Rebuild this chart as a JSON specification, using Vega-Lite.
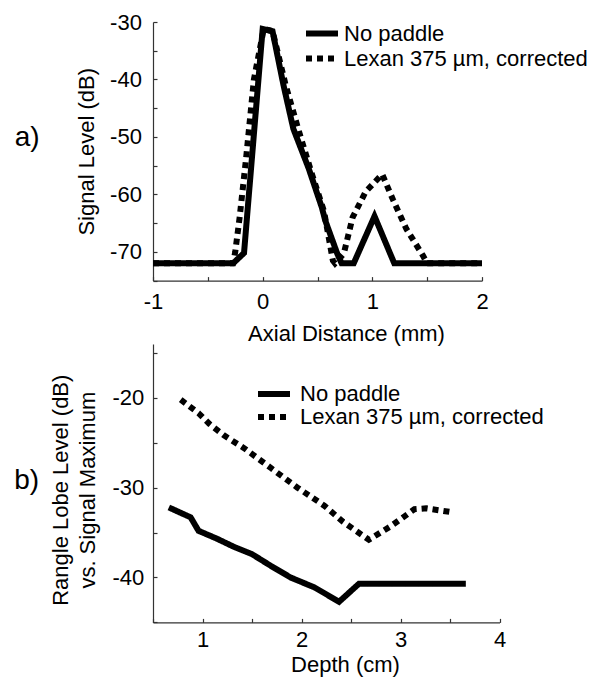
{
  "$schema": "https://vega.github.io/schema/vega-lite/v6.json",
  "background": "white",
  "padding": {"left": 14, "top": 11, "right": 5, "bottom": 5},
  "config": {
    "view": {"stroke": null},
    "font": "Liberation Sans",
    "axis": {
      "grid": false, "domainColor": "#333333", "domainWidth": 1.2,
      "tickColor": "#333333", "tickWidth": 1.2, "tickSize": -4,
      "labelFontSize": 22, "labelColor": "black", "labelFont": "Liberation Sans",
      "titleFontSize": 22, "titleFontWeight": "normal", "titleColor": "black", "titleFont": "Liberation Sans",
      "labelOverlap": false, "labelFlush": false
    },
    "legend": {
      "title": null, "orient": "none", "labelFontSize": 22, "labelFont": "Liberation Sans", "labelColor": "black",
      "labelLimit": 400,
      "symbolType": "M-2,0L2,0", "symbolSize": 256, "symbolStrokeWidth": 6, "symbolStrokeColor": "black",
      "labelOffset": 11, "padding": 0
    }
  },
  "bounds": "flush",
  "spacing": 63,
  "resolve": {
    "scale": {"x": "independent", "y": "independent", "strokeDash": "independent"},
    "legend": {"strokeDash": "independent"}
  },
  "vconcat": [
    {
      "width": 329,
      "height": 258.6,
      "title": {"text": "a)", "orient": "left", "angle": 0, "frame": "group", "anchor": "middle", "align": "right", "baseline": "middle", "fontSize": 28, "fontWeight": "normal", "color": "black", "offset": 10.5, "dy": -13},
      "data": {"values": [
        {"series": "No paddle", "distance": -1, "level": -72},
        {"series": "No paddle", "distance": -0.27, "level": -72},
        {"series": "No paddle", "distance": -0.17, "level": -70.2},
        {"series": "No paddle", "distance": 0.0, "level": -31.2},
        {"series": "No paddle", "distance": 0.09, "level": -31.6},
        {"series": "No paddle", "distance": 0.19, "level": -41},
        {"series": "No paddle", "distance": 0.28, "level": -48.6},
        {"series": "No paddle", "distance": 0.42, "level": -55.5},
        {"series": "No paddle", "distance": 0.54, "level": -62.3},
        {"series": "No paddle", "distance": 0.57, "level": -64.5},
        {"series": "No paddle", "distance": 0.68, "level": -70.3},
        {"series": "No paddle", "distance": 0.72, "level": -72},
        {"series": "No paddle", "distance": 0.83, "level": -72},
        {"series": "No paddle", "distance": 1.02, "level": -63.8},
        {"series": "No paddle", "distance": 1.2, "level": -72},
        {"series": "No paddle", "distance": 2, "level": -72},
        {"series": "Lexan 375 µm, corrected", "distance": -1, "level": -72},
        {"series": "Lexan 375 µm, corrected", "distance": -0.27, "level": -72},
        {"series": "Lexan 375 µm, corrected", "distance": -0.25, "level": -70},
        {"series": "Lexan 375 µm, corrected", "distance": -0.21, "level": -64},
        {"series": "Lexan 375 µm, corrected", "distance": -0.15, "level": -53.5},
        {"series": "Lexan 375 µm, corrected", "distance": -0.08, "level": -40},
        {"series": "Lexan 375 µm, corrected", "distance": 0.01, "level": -31.2},
        {"series": "Lexan 375 µm, corrected", "distance": 0.09, "level": -31.6},
        {"series": "Lexan 375 µm, corrected", "distance": 0.21, "level": -41},
        {"series": "Lexan 375 µm, corrected", "distance": 0.33, "level": -49},
        {"series": "Lexan 375 µm, corrected", "distance": 0.45, "level": -56.5},
        {"series": "Lexan 375 µm, corrected", "distance": 0.56, "level": -63},
        {"series": "Lexan 375 µm, corrected", "distance": 0.64, "level": -71.5},
        {"series": "Lexan 375 µm, corrected", "distance": 0.66, "level": -72},
        {"series": "Lexan 375 µm, corrected", "distance": 0.74, "level": -70.3},
        {"series": "Lexan 375 µm, corrected", "distance": 0.82, "level": -64},
        {"series": "Lexan 375 µm, corrected", "distance": 0.94, "level": -59.5},
        {"series": "Lexan 375 µm, corrected", "distance": 1.09, "level": -56.5},
        {"series": "Lexan 375 µm, corrected", "distance": 1.19, "level": -61},
        {"series": "Lexan 375 µm, corrected", "distance": 1.31, "level": -66},
        {"series": "Lexan 375 µm, corrected", "distance": 1.46, "level": -70.6},
        {"series": "Lexan 375 µm, corrected", "distance": 1.5, "level": -72},
        {"series": "Lexan 375 µm, corrected", "distance": 2, "level": -72}
      ]},
      "mark": {"type": "line", "color": "black", "strokeWidth": 6, "strokeJoin": "miter", "strokeCap": "butt"},
      "encoding": {
        "x": {
          "field": "distance", "type": "quantitative",
          "scale": {"domain": [-1, 2], "nice": false, "zero": false},
          "axis": {
            "title": "Axial Distance (mm)",
            "values": [-1, -0.5, 0, 0.5, 1, 1.5, 2],
            "labelExpr": "datum.value % 1 === 0 ? '' + datum.value : ''",
            "labelPadding": 25, "labelBaseline": "middle",
            "titleX": 193, "titleY": 53, "titleBaseline": "middle", "titleAlign": "center"
          }
        },
        "y": {
          "field": "level", "type": "quantitative",
          "scale": {"domain": [-75, -30], "nice": false, "zero": false},
          "axis": {
            "title": "Signal Level (dB)",
            "values": [-75, -70, -65, -60, -55, -50, -45, -40, -35, -30],
            "labelExpr": "datum.value % 10 === 0 ? '' + datum.value : ''",
            "labelPadding": 15.6, "labelBaseline": "middle",
            "titleX": -67, "titleY": 129.3, "titleBaseline": "middle", "titleAlign": "center"
          }
        },
        "strokeDash": {
          "field": "series", "type": "nominal",
          "scale": {"domain": ["No paddle", "Lexan 375 µm, corrected"], "range": [[1, 0], [6, 5]]},
          "legend": {"legendX": 158, "legendY": 0.6, "rowPadding": 1}
        }
      }
    },
    {
      "width": 346.5,
      "height": 278.4,
      "title": {"text": "b)", "orient": "left", "angle": 0, "frame": "group", "anchor": "middle", "align": "right", "baseline": "middle", "fontSize": 28, "fontWeight": "normal", "color": "black", "offset": -15, "dy": -2.5},
      "data": {"values": [
        {"series": "No paddle", "depth": 0.66, "level": -32.2},
        {"series": "No paddle", "depth": 0.88, "level": -33.3},
        {"series": "No paddle", "depth": 0.96, "level": -34.8},
        {"series": "No paddle", "depth": 1.15, "level": -35.7},
        {"series": "No paddle", "depth": 1.32, "level": -36.6},
        {"series": "No paddle", "depth": 1.5, "level": -37.4},
        {"series": "No paddle", "depth": 1.69, "level": -38.7},
        {"series": "No paddle", "depth": 1.89, "level": -40},
        {"series": "No paddle", "depth": 2.13, "level": -41.1},
        {"series": "No paddle", "depth": 2.38, "level": -42.7},
        {"series": "No paddle", "depth": 2.58, "level": -40.7},
        {"series": "No paddle", "depth": 3.66, "level": -40.7},
        {"series": "Lexan 375 µm, corrected", "depth": 0.78, "level": -20.2},
        {"series": "Lexan 375 µm, corrected", "depth": 0.96, "level": -21.7},
        {"series": "Lexan 375 µm, corrected", "depth": 1.07, "level": -22.9},
        {"series": "Lexan 375 µm, corrected", "depth": 1.22, "level": -24.2},
        {"series": "Lexan 375 µm, corrected", "depth": 1.42, "level": -25.6},
        {"series": "Lexan 375 µm, corrected", "depth": 1.69, "level": -27.8},
        {"series": "Lexan 375 µm, corrected", "depth": 1.96, "level": -30},
        {"series": "Lexan 375 µm, corrected", "depth": 2.23, "level": -32},
        {"series": "Lexan 375 µm, corrected", "depth": 2.42, "level": -33.8},
        {"series": "Lexan 375 µm, corrected", "depth": 2.68, "level": -35.8},
        {"series": "Lexan 375 µm, corrected", "depth": 2.9, "level": -34.3},
        {"series": "Lexan 375 µm, corrected", "depth": 3.14, "level": -32.4},
        {"series": "Lexan 375 µm, corrected", "depth": 3.26, "level": -32.3},
        {"series": "Lexan 375 µm, corrected", "depth": 3.5, "level": -32.7}
      ]},
      "mark": {"type": "line", "color": "black", "strokeWidth": 6, "strokeJoin": "miter", "strokeCap": "butt"},
      "encoding": {
        "x": {
          "field": "depth", "type": "quantitative",
          "scale": {"domain": [0.5, 4], "nice": false, "zero": false},
          "axis": {
            "title": "Depth (cm)",
            "values": [0.5, 1, 1.5, 2, 2.5, 3, 3.5, 4],
            "labelExpr": "datum.value % 1 === 0 ? '' + datum.value : ''",
            "labelPadding": 20.6, "labelBaseline": "middle",
            "titleX": 192, "titleY": 41.6, "titleBaseline": "middle", "titleAlign": "center"
          }
        },
        "y": {
          "field": "level", "type": "quantitative",
          "scale": {"domain": [-45, -14], "nice": false, "zero": false},
          "axis": {
            "title": ["Rangle Lobe Level (dB)", "vs. Signal Maximum"],
            "values": [-45, -40, -35, -30, -25, -20, -15],
            "labelExpr": "datum.value % 10 === 0 ? '' + datum.value : ''",
            "labelPadding": 13.3, "labelBaseline": "middle",
            "titleX": -93, "titleY": 145.7, "titleBaseline": "middle", "titleAlign": "center", "titleLineHeight": 27
          }
        },
        "strokeDash": {
          "field": "series", "type": "nominal",
          "scale": {"domain": ["No paddle", "Lexan 375 µm, corrected"], "range": [[1, 0], [6, 5]]},
          "legend": {"legendX": 110, "legendY": 39, "rowPadding": -1, "labelOffset": 15}
        }
      }
    }
  ]
}
